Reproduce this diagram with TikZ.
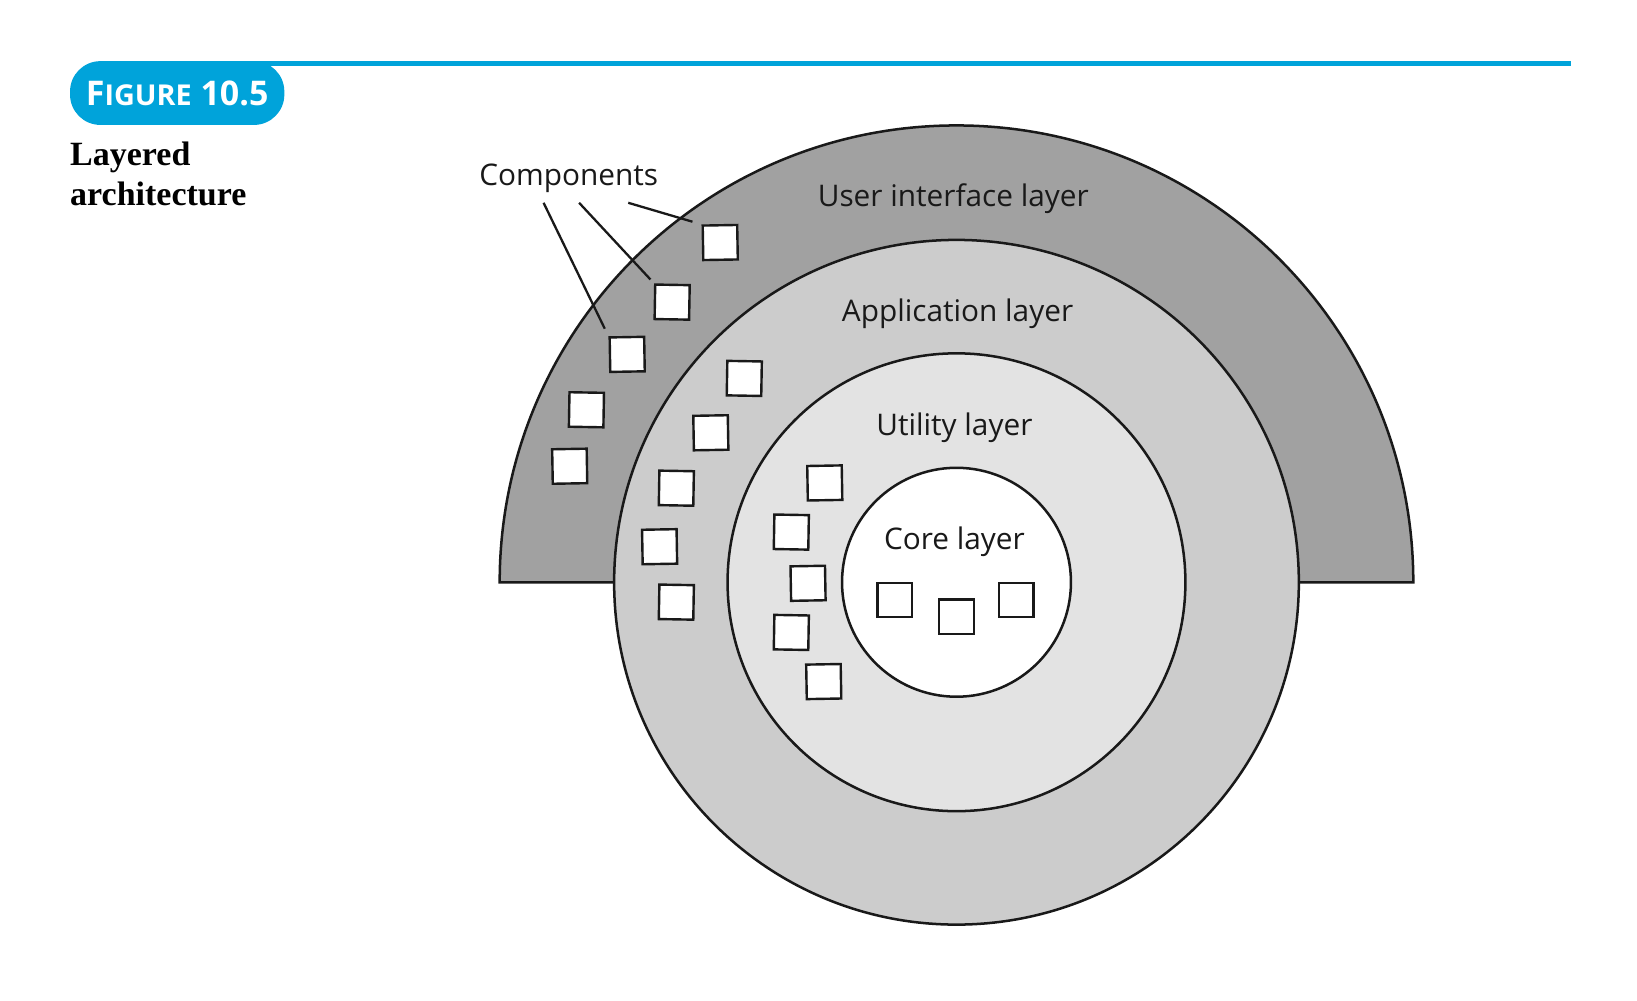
\documentclass[tikz,border=0pt]{standalone}
\usepackage{fontspec}
\setmainfont{Open Sans}[Ligatures=NoCommon]
\newfontfamily\titlefont{Liberation Serif}
\newfontfamily\headfont{Open Sans}
\definecolor{hdrblue}{RGB}{0,163,218}
\definecolor{uigray}{RGB}{161,161,161}
\definecolor{appgray}{RGB}{204,204,204}
\definecolor{utilgray}{RGB}{227,227,227}
\begin{document}
\begin{tikzpicture}[x=1pt,y=-1pt,
  layer/.style={draw=black!90, line width=2.4pt},
  ring/.style={layer, circle, inner sep=0pt, outer sep=0pt},
  lbl/.style={font=\fontsize{28.5}{32}\selectfont, text=black!90, inner sep=0pt, anchor=base},
  compbox/.style={draw=black!90, fill=white, line width=2.3pt, minimum size=33pt, inner sep=0pt},
  leader/.style={line width=2.2pt, draw=black!90}
]
\useasboundingbox (0,0) rectangle (1566,957);
% header
\draw[hdrblue, line width=5pt] (100,61) -- (1503,61);
\node[fill=hdrblue, rounded corners=29pt, minimum width=205pt, minimum height=61pt, inner sep=0pt] (fig) at (169.5,89)
  {\headfont\bfseries\color{white}\fontsize{32.5}{32}\selectfont F\fontsize{27.5}{27}\selectfont IGURE\fontsize{32.5}{32}\selectfont\ 10.5};
\node[anchor=base west, inner sep=0pt, font=\titlefont\bfseries\fontsize{32.5}{36}\selectfont] (t1) at (67,158) {Layered};
\node[anchor=base west, inner sep=0pt, font=\titlefont\bfseries\fontsize{32.5}{36}\selectfont] (t2) at (67,197) {architecture};
% layers
\filldraw[layer, fill=uigray] (478,557) arc[start angle=180, end angle=0, radius=437pt] -- cycle;
\node[ring, fill=appgray, minimum size=655pt] (app) at (915,557) {};
\node[ring, fill=utilgray, minimum size=438pt] (util) at (915,557) {};
\node[ring, fill=white, minimum size=219pt] (core) at (915,557) {};
% labels
\node[lbl] (uil) at (912,198) {User interface layer};
\node[lbl] (appl) at (916,308) {Application layer};
\node[lbl] (utill) at (913,417) {Utility layer};
\node[lbl] (corel) at (913,526) {Core layer};
\node[lbl] (compl) at (544,177) {Components};
% components - UI layer
\node[compbox, rotate=1] (u1) at (689,232) {};
\node[compbox, rotate=-1] (u2) at (643,289) {};
\node[compbox, rotate=1] (u3) at (600,339) {};
\node[compbox, rotate=-1] (u4) at (561,392) {};
\node[compbox, rotate=1] (u5) at (545,446) {};
% application layer
\node[compbox, rotate=-1] (a1) at (712,362) {};
\node[compbox, rotate=1] (a2) at (680,414) {};
\node[compbox, rotate=-1] (a3) at (647,467) {};
\node[compbox, rotate=1] (a4) at (631,523) {};
\node[compbox, rotate=-1] (a5) at (647,576) {};
% utility layer
\node[compbox, rotate=1] (v1) at (789,462) {};
\node[compbox, rotate=-1] (v2) at (757,509) {};
\node[compbox, rotate=1] (v3) at (773,558) {};
\node[compbox, rotate=-1] (v4) at (757,605) {};
\node[compbox, rotate=1] (v5) at (788,652) {};
% core layer
\node[compbox] (c1) at (856,574) {};
\node[compbox] (c2) at (915,590) {};
\node[compbox] (c3) at (972,574) {};
% leaders
\coordinate (p1) at (520,194);
\coordinate (p2) at (554,194);
\coordinate (p3) at (601,194);
\draw[leader, shorten >=8pt] (p1) -- (u3.north west);
\draw[leader, shorten >=5pt] (p2) -- (u2.north west);
\draw[leader, shorten >=9pt] (p3) -- (u1.north west);
\end{tikzpicture}
\end{document}
